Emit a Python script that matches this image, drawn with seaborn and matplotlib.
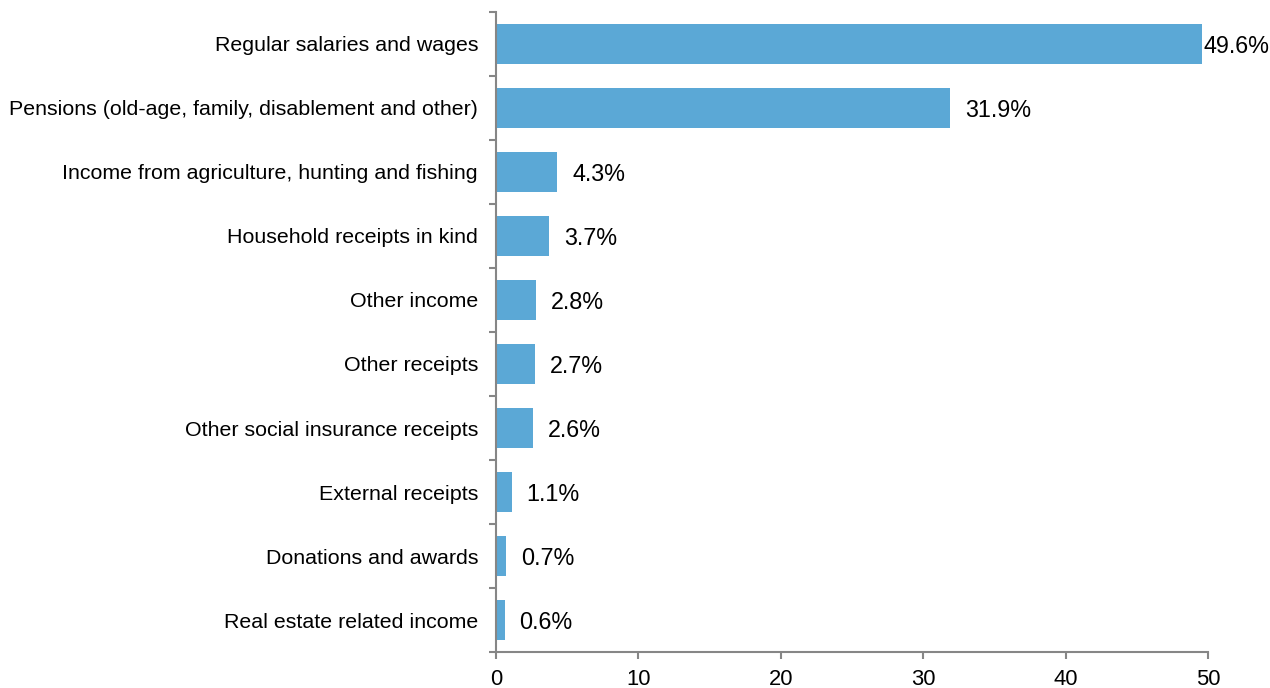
import matplotlib
matplotlib.use("Agg")
import matplotlib.pyplot as plt
import numpy as np
import pandas as pd
import seaborn as sns

categories = [
    "Regular salaries and wages",
    "Pensions (old-age, family, disablement and other)",
    "Income from agriculture, hunting and fishing",
    "Household receipts in kind",
    "Other income",
    "Other receipts",
    "Other social insurance receipts",
    "External receipts",
    "Donations and awards",
    "Real estate related income",
]
shares = [49.6, 31.9, 4.3, 3.7, 2.8, 2.7, 2.6, 1.1, 0.7, 0.6]

df = pd.DataFrame({"category": categories, "share": shares})

sns.set_style("white")
plt.rcParams["font.family"] = ["Liberation Sans", "DejaVu Sans"]
plt.rcParams["text.color"] = "black"
plt.rcParams["xtick.color"] = "black"
plt.rcParams["ytick.color"] = "black"

fig = plt.figure(figsize=(12.7, 6.88), dpi=100)
ax = fig.add_axes([0.3906, 0.0523, 0.9512 - 0.3906, 0.9826 - 0.0523])

sns.barplot(data=df, x="share", y="category", orient="h", color="#5BA8D6",
            saturation=1, width=0.62, linewidth=0, ax=ax)

# etiquetas de valor
for i, v in enumerate(shares):
    pad = 0.05 if i == 0 else 1.05
    ax.text(v + pad, i, f"{v:.1f}%", va="center_baseline", ha="left",
            fontsize=16.8, color="black")

ax.set_xlim(0, 50)
ax.set_ylim(len(categories) - 0.5, -0.5)
ax.set_xticks(range(0, 51, 10))
ax.set_yticks(np.arange(len(categories) + 1) - 0.5, minor=True)
ax.tick_params(axis="y", which="major", length=0, pad=13, labelsize=15.4,
               labelcolor="black")
ax.tick_params(axis="y", which="minor", length=5, width=1.5, color="#868686", left=True)
ax.tick_params(axis="x", which="major", length=5, width=1.5, color="#868686",
               bottom=True, pad=7, labelsize=15.8, labelcolor="black")
ax.set_xlabel("")
ax.set_ylabel("")

for side in ["top", "right"]:
    ax.spines[side].set_visible(False)
for side in ["left", "bottom"]:
    ax.spines[side].set_color("#868686")
    ax.spines[side].set_linewidth(1.5)

fig.savefig("out.png", dpi=100)
